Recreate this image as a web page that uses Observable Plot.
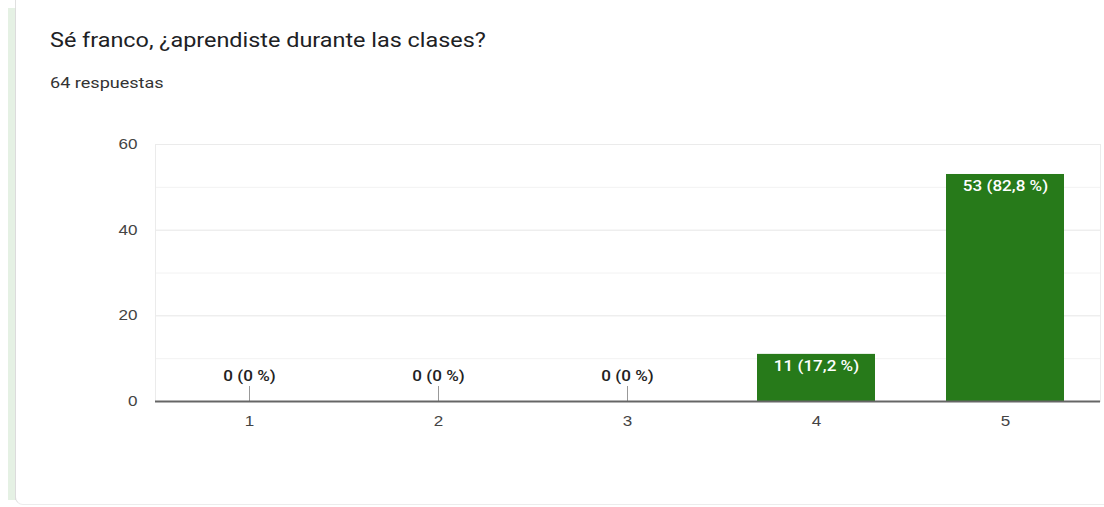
<!DOCTYPE html>
<html><head><meta charset="utf-8">
<script src="https://cdn.jsdelivr.net/npm/d3@7"></script>
<script src="https://cdn.jsdelivr.net/npm/@observablehq/plot@0.6"></script>
<style>
html,body{margin:0;padding:0;background:#fff;}
#wrap{position:relative;width:1104px;height:507px;overflow:hidden;}
#strip{position:absolute;left:8px;top:8px;width:7px;height:492px;background:#e5f1e4;border-right:1px solid #dcdcdc;}
#card{position:absolute;left:15px;top:-20px;width:1120px;height:524px;border-bottom:1px solid #ececec;border-left:1px solid #e0e0e0;border-radius:0 0 0 8px;}
#title{position:absolute;left:50px;top:29px;font:19.5px Roboto,"Liberation Sans",sans-serif;color:#202124;white-space:nowrap;transform:scaleX(1.2);transform-origin:0 0;}
#sub{position:absolute;left:50px;top:75px;font:14px Roboto,"Liberation Sans",sans-serif;color:#333;white-space:nowrap;transform:scaleX(1.29);transform-origin:0 0;}
#chart{position:absolute;left:0;top:110px;}
</style></head>
<body>
<div id="wrap">
<div id="card"></div>
<div id="strip"></div>
<div id="title">Sé franco, ¿aprendiste durante las clases?</div>
<div id="sub">64 respuestas</div>
<div id="chart"></div>
</div>
<script>
const categories = ["1","2","3","4","5"];
const counts = [0, 0, 0, 11, 53];
const labels = ["0 (0 %)","0 (0 %)","0 (0 %)","11 (17,2 %)","53 (82,8 %)"];
const yTicks = [0, 20, 40, 60];
const minorTicks = [10, 30, 50];

const data = categories.map((c, i) => ({cat: c, n: counts[i], label: labels[i]}));
const zeros = data.filter(d => d.n === 0);
const nonzeros = data.filter(d => d.n > 0);

const chart = Plot.plot({
  width: 1104,
  height: 350,
  marginLeft: 155,
  marginRight: 4,
  marginTop: 34,
  marginBottom: 59,
  style: {fontFamily: "Arial, 'Liberation Sans', sans-serif", fontSize: "14px", color: "#444", background: "transparent"},
  x: {domain: categories, paddingInner: 0.375, paddingOuter: 0.1875, label: null},
  y: {domain: [0, 60], label: null},
  marks: [
    Plot.ruleY(minorTicks, {stroke: "#f2f2f2"}),
    Plot.ruleY(yTicks, {stroke: "#e6e6e6"}),
    Plot.frame({stroke: "#ebebeb"}),
    Plot.axisY({ticks: yTicks, tickSize: 0, tickPadding: 18, fontSize: 14, fill: "#444"}),
    Plot.axisX({tickSize: 0, tickPadding: 15, fontSize: 14, fill: "#444"}),
    Plot.barY(data, {x: "cat", y: "n", fill: "#277a1a"}),
    Plot.ruleX(zeros, {x: "cat", y1: 0, y2: 0, insetTop: -15, stroke: "#999", strokeWidth: 1}),
    Plot.ruleY([0], {stroke: "#666", strokeWidth: 2}),
    Plot.text(zeros, {x: "cat", y: "n", text: "label", dy: -25, fill: "#222", fontSize: 14, fontWeight: 500, fontFamily: "Roboto, Arial, sans-serif"}),
    Plot.text(nonzeros, {x: "cat", y: "n", text: "label", dy: 12, fill: "#fff", fontSize: 14, fontWeight: 500, fontFamily: "Roboto, Arial, sans-serif"})
  ]
});
// horizontal stretch of text glyphs around their anchors, as in the reference
chart.querySelectorAll("text").forEach(t => {
  const tr = t.getAttribute("transform");
  if (tr && tr.startsWith("translate")) t.setAttribute("transform", tr + " scale(1.22,1)");
});
document.getElementById("chart").appendChild(chart);
</script>
</body></html>
